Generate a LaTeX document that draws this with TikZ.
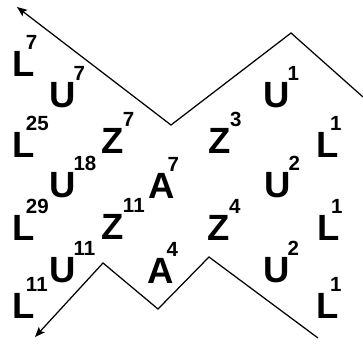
\documentclass[tikz,border=0pt]{standalone}
\usepackage{fontspec}
\setmainfont{Liberation Sans}
\usepackage{tikz}
\usetikzlibrary{arrows.meta}

\newcommand{\expo}[1]{\raisebox{26.5pt}{\fontsize{20.5pt}{21pt}\selectfont\bfseries #1}}
\newcommand{\Lsup}[1]{L\kern-9pt\expo{#1}}
\newcommand{\Usup}[1]{U\kern-2.5pt\expo{#1}}
\newcommand{\Zsup}[1]{Z\kern-0.5pt\expo{#1}}
\newcommand{\Asup}[1]{A\kern-7.5pt\expo{#1}}

\begin{document}
\begin{tikzpicture}[x=1pt, y=-1pt,
    every node/.style={anchor=base west, inner sep=0pt, font=\fontsize{36.5pt}{37pt}\selectfont\bfseries},
    zig/.style={line width=1.25pt, black},
    tip/.style={-{Stealth[length=10pt, width=8pt, inset=2pt]}}]
  \useasboundingbox (0,0) rectangle (363,343);
  % zigzag lines
  \coordinate (t0) at (17,7);
  \coordinate (t1) at (171,125);
  \coordinate (t2) at (291,33);
  \coordinate (t3) at (363,97);
  \coordinate (b0) at (35,337);
  \coordinate (b1) at (103,263);
  \coordinate (b2) at (158,309);
  \coordinate (b3) at (209,257);
  \coordinate (b4) at (318,338);
  \draw[zig, tip] (t3) -- (t2) -- (t1) -- (t0);
  \draw[zig, tip] (b4) -- (b3) -- (b2) -- (b1) -- (b0);
  % left columns
  \node (l7)  at (12.5,76)  {\Lsup{7}};
  \node (u7)  at (49.5,107) {\Usup{7}};
  \node (l25) at (12.5,157) {\Lsup{25}};
  \node (z7)  at (101,153)  {\Zsup{7}};
  \node (u18) at (49.5,197) {\Usup{18}};
  \node (a7)  at (148.5,198) {\Asup{7}};
  \node (l29) at (12.5,240) {\Lsup{29}};
  \node (z11) at (101,239)  {\Zsup{11}};
  \node (u11) at (49.5,282) {\Usup{11}};
  \node (a4)  at (147.5,283) {\Asup{4}};
  \node (l11) at (12.5,318) {\Lsup{11}};
  % right columns
  \node (u1)  at (263.5,107) {\Usup{1}};
  \node (z3)  at (208,153)   {\Zsup{3}};
  \node (l1a) at (316.5,157) {\Lsup{1}};
  \node (u2a) at (264.5,197) {\Usup{2}};
  \node (z4)  at (207,240)   {\Zsup{4}};
  \node (l1b) at (317.5,240) {\Lsup{1}};
  \node (u2b) at (263.5,282) {\Usup{2}};
  \node (l1c) at (316.5,318) {\Lsup{1}};
\end{tikzpicture}
\end{document}
